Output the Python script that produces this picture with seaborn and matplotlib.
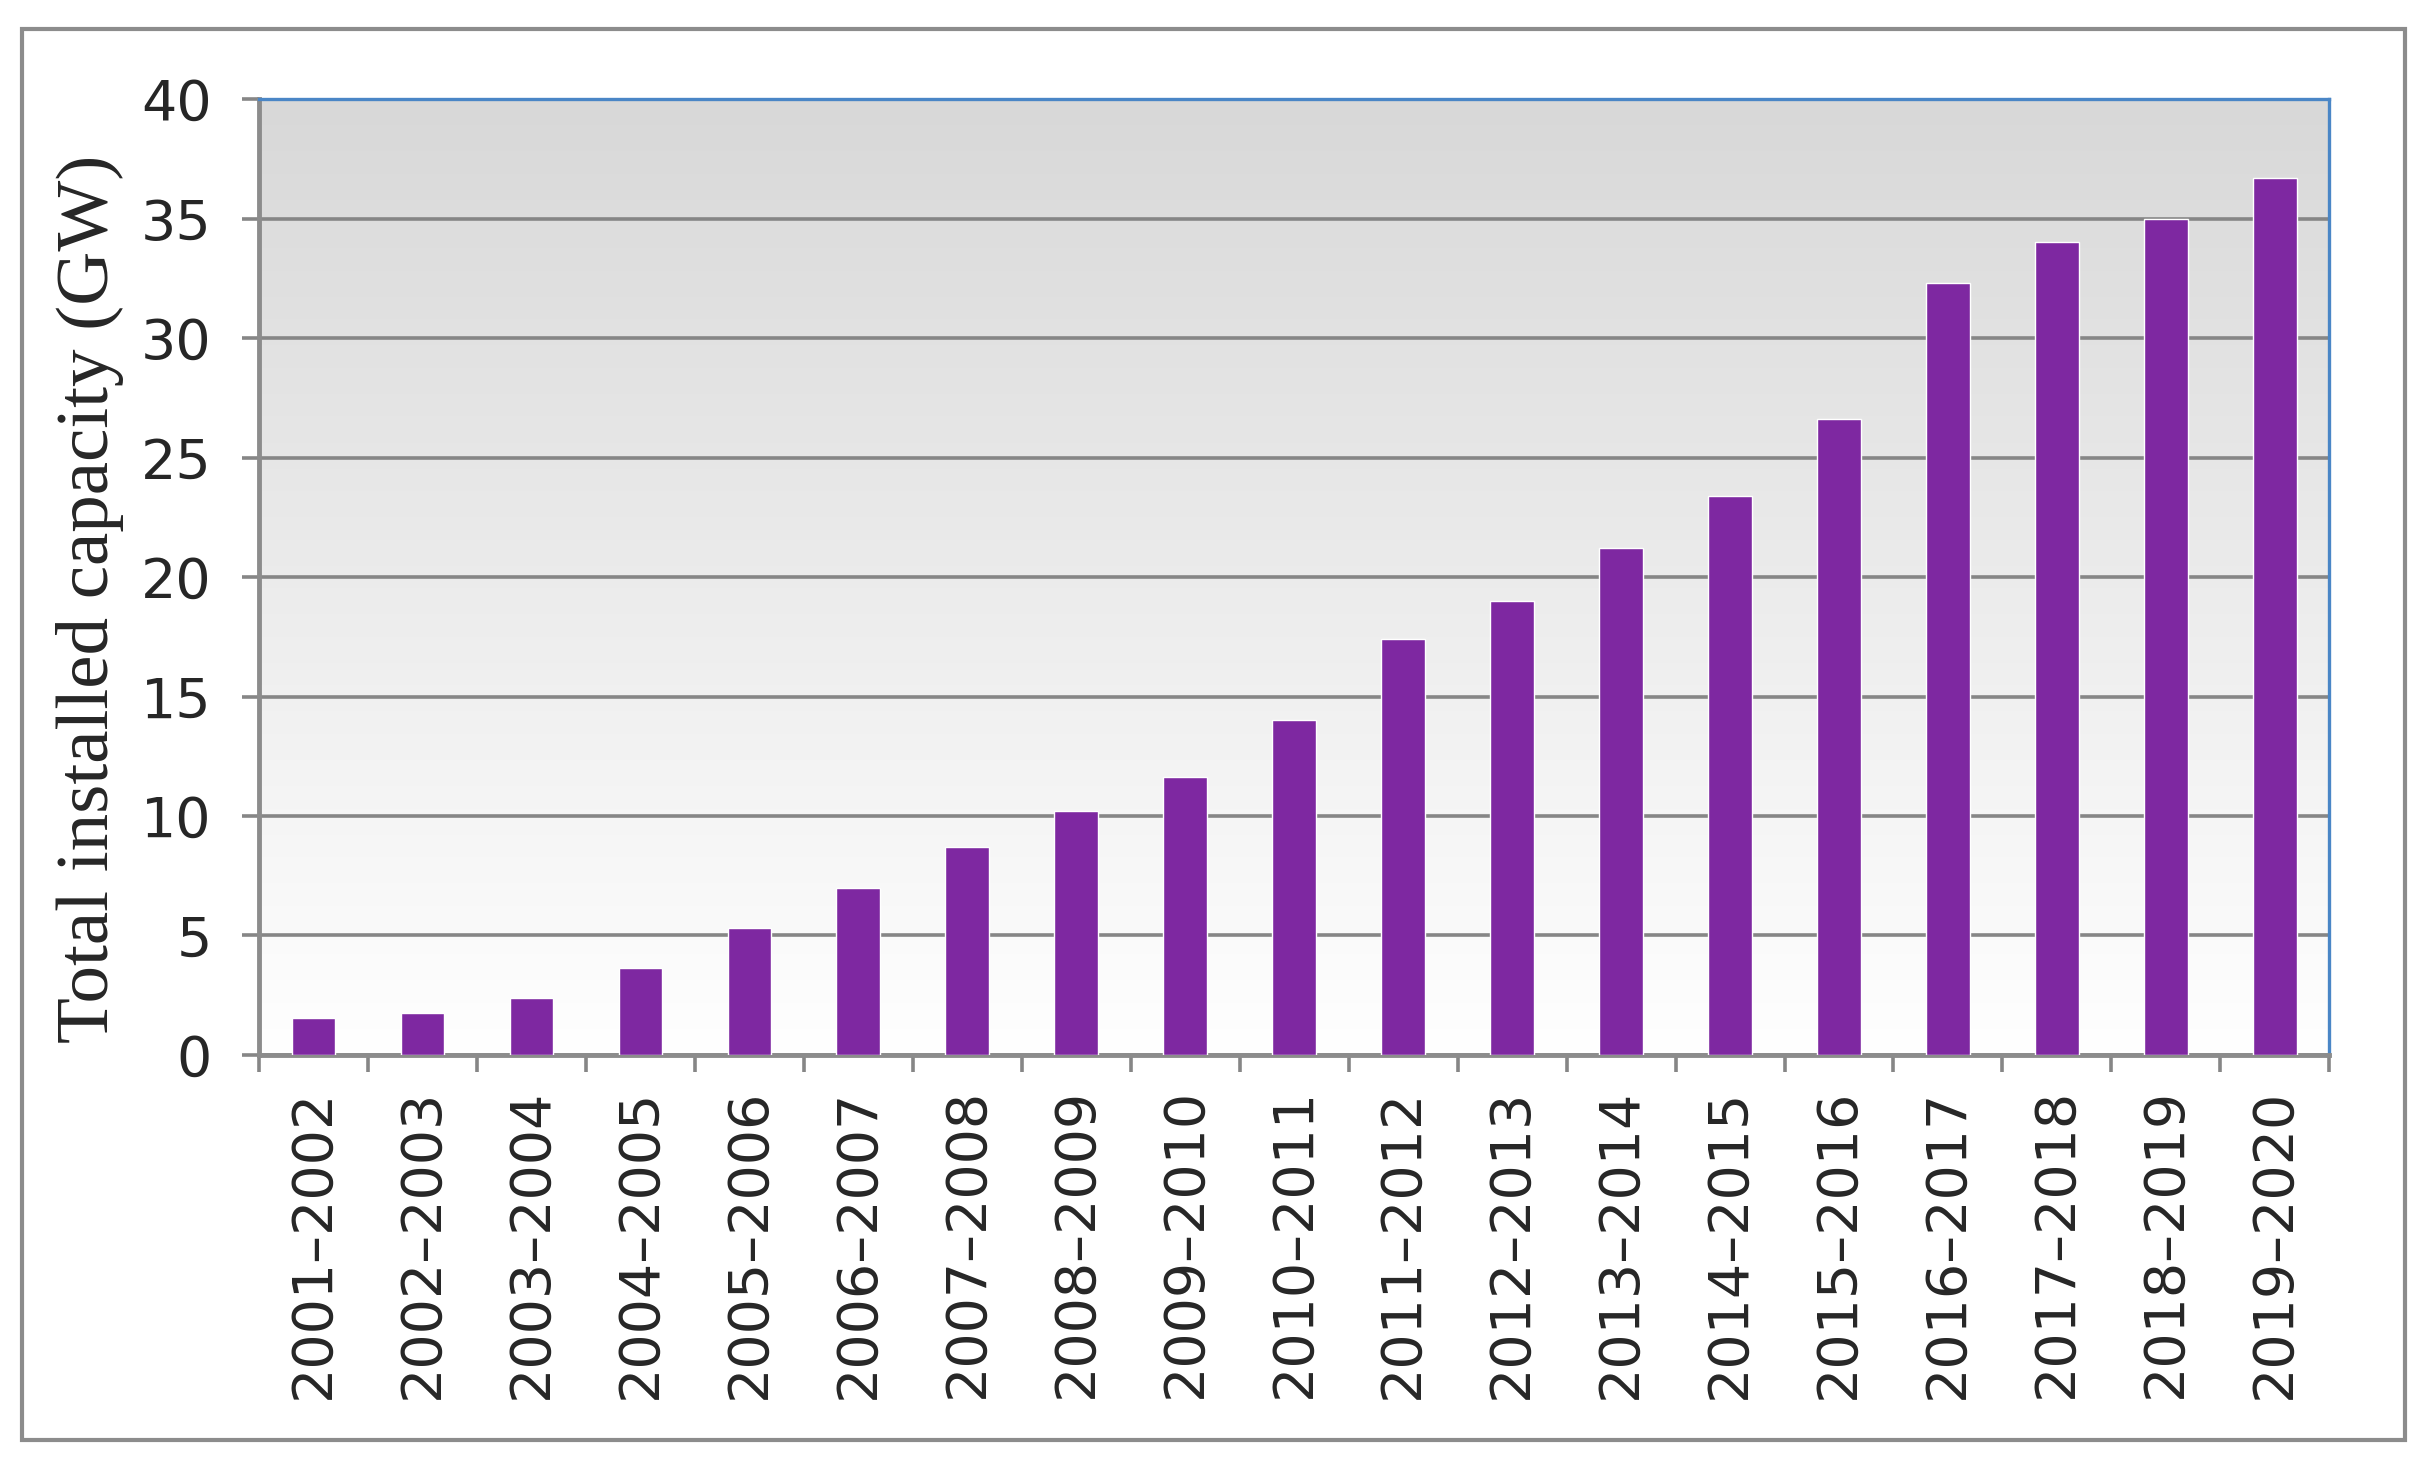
import numpy as np
import matplotlib
matplotlib.use("Agg")
import matplotlib.pyplot as plt
import seaborn as sns
from matplotlib.colors import LinearSegmentedColormap
from matplotlib.patches import Rectangle

# fiscal years and total installed capacity (GW)
periods = ["2001–2002", "2002–2003", "2003–2004", "2004–2005", "2005–2006",
           "2006–2007", "2007–2008", "2008–2009", "2009–2010", "2010–2011",
           "2011–2012", "2012–2013", "2013–2014", "2014–2015", "2015–2016",
           "2016–2017", "2017–2018", "2018–2019", "2019–2020"]
capacity = [1.55, 1.75, 2.4, 3.65, 5.3,
            7.0, 8.7, 10.2, 11.65, 14.0,
            17.4, 19.0, 21.2, 23.4, 26.6,
            32.3, 34.0, 35.0, 36.7]
y_ticks = [0, 5, 10, 15, 20, 25, 30, 35, 40]

sns.set_style("white")
plt.rcParams['font.family'] = ['DejaVu Sans']

fig = plt.figure(figsize=(24.34, 14.72), dpi=100)
pos = [0.1064, 0.2833, 0.8506, 0.6494]

# gradient background of the plot area
bg = fig.add_axes(pos, zorder=0)
grad = np.linspace(0, 1, 256).reshape(-1, 1)
cmap = LinearSegmentedColormap.from_list("bg", ["#d8d8d8", "#ffffff"])
bg.imshow(grad, aspect='auto', cmap=cmap, extent=[0, 1, 0, 1])
bg.axis('off')

ax = fig.add_axes(pos, zorder=1)
ax.set_facecolor('none')

sns.barplot(x=periods, y=capacity, color="#7E28A1", saturation=1,
  width=0.4, ax=ax, zorder=3)

ax.set_ylim(0, 40)
ax.set_xlim(-0.5, len(periods) - 0.5)
ax.set_yticks(y_ticks)
ax.yaxis.grid(True, color="#868686", linewidth=2.6)
ax.set_axisbelow(True)

ax.tick_params(axis='y', labelsize=40, length=12, width=2.6,
  color="#868686", pad=22, direction='out', left=True)
ax.set_xticks(range(len(periods)))
ax.set_xticklabels(periods, rotation=90, fontsize=40)
ax.tick_params(axis='x', length=0, pad=24)
ax.set_xticks(np.arange(-0.5, len(periods)), minor=True)
ax.tick_params(axis='x', which='minor', length=12, width=2.6,
  color="#868686", direction='out', bottom=True)

for side in ['left', 'bottom']:
    ax.spines[side].set_color("#8c8c8c")
    ax.spines[side].set_linewidth(3.5)
for side in ['top', 'right']:
    ax.spines[side].set_visible(True)
    ax.spines[side].set_color("#4a86c6")
    ax.spines[side].set_linewidth(2.4)

ax.set_xlabel('')
ax.set_ylabel('Total installed capacity (GW)', fontsize=54,
  family=['Liberation Serif'])
ax.yaxis.set_label_coords(-0.065, 0.477)

# outer chart frame
fig.patches.append(Rectangle((0.009, 0.022), 0.979, 0.958,
  transform=fig.transFigure, fill=False,
  edgecolor="#8c8c8c", linewidth=3))

fig.savefig("out.png", dpi=100, facecolor='white')
